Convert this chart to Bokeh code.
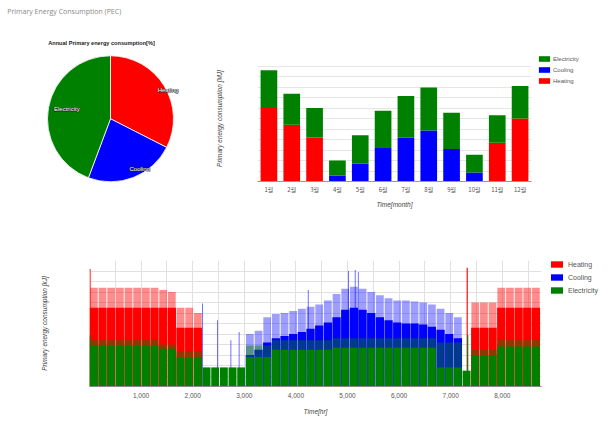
import math
from bokeh.plotting import figure
from bokeh.models import (ColumnDataSource, FactorRange, Range1d, FixedTicker,
                          Legend, LegendItem, NumeralTickFormatter)
from bokeh.layouts import row, column
from bokeh.embed import file_html
from bokeh.resources import INLINE
from bokeh.core.properties import value

# ---------------- data ----------------
page_title = "Primary Energy Consumption (PEC)"
pie_title = "Annual Primary energy consumption[%]"
pie_labels = ["Heating", "Cooling", "Electricity"]
pie_shares = [32.5, 23.2, 44.3]

months = ["1월", "2월", "3월", "4월", "5월", "6월", "7월", "8월", "9월", "10월", "11월", "12월"]
heating_month = [7.0, 5.4, 4.2, 0, 0, 0, 0, 0, 0, 0, 3.7, 6.0]
cooling_month = [0, 0, 0, 0.57, 1.7, 3.2, 4.2, 4.85, 3.1, 0.85, 0, 0]
electricity_month = [3.6, 2.95, 2.8, 1.43, 2.7, 3.55, 3.95, 4.1, 3.45, 1.7, 2.6, 3.1]

week_start_hr = [0, 168, 336, 504, 672, 840, 1008, 1176, 1344, 1512,
                 1680, 1848, 2016, 2184, 2352, 2520, 2688, 2856, 3024, 3192,
                 3360, 3528, 3696, 3864, 4032, 4200, 4368, 4536, 4704, 4872,
                 5040, 5208, 5376, 5544, 5712, 5880, 6048, 6216, 6384, 6552,
                 6720, 6888, 7056, 7224, 7392, 7560, 7728, 7896, 8064, 8232,
                 8400, 8568]
heating_base = [7.5, 7.5, 7.5, 7.5, 7.5, 7.5, 7.5, 7.5, 7.5, 7.5,
                5.6, 5.6, 5.6, 0, 0, 0, 0, 0, 0, 0,
                0, 0, 0, 0, 0, 0, 0, 0, 0, 0,
                0, 0, 0, 0, 0, 0, 0, 0, 0, 0,
                0, 0, 0, 0, 5.6, 5.6, 5.6, 7.5, 7.5, 7.5,
                7.5, 7.5]
heating_peak = [9.4, 9.4, 9.4, 9.4, 9.4, 9.4, 9.4, 9.4, 9.2, 9.0,
                7.5, 7.5, 7.0, 0, 0, 0, 0, 0, 0, 0,
                0, 0, 0, 0, 0, 0, 0, 0, 0, 0,
                0, 0, 0, 0, 0, 0, 0, 0, 0, 0,
                0, 0, 0, 0, 8.0, 8.0, 8.0, 9.4, 9.4, 9.4,
                9.4, 9.4]
cooling_base = [0, 0, 0, 0, 0, 0, 0, 0, 0, 0,
                0, 0, 0, 0, 0, 0, 0, 0, 3.0, 3.5,
                4.2, 4.6, 4.8, 5.0, 5.2, 5.5, 5.8, 6.1, 6.6, 7.3,
                7.5, 7.3, 7.0, 6.6, 6.3, 6.1, 6.0, 6.0, 5.9, 5.7,
                5.4, 5.0, 4.6, 0, 0, 0, 0, 0, 0, 0,
                0, 0]
cooling_peak = [0, 0, 0, 0, 0, 0, 0, 0, 0, 0,
                0, 0, 0, 0, 0, 0, 0, 0, 5.0, 5.3,
                6.6, 6.9, 7.0, 7.2, 7.4, 7.6, 7.8, 8.2, 8.8, 9.3,
                9.5, 9.3, 9.0, 8.7, 8.4, 8.2, 8.2, 8.1, 8.0, 7.8,
                7.4, 7.0, 6.6, 0, 0, 0, 0, 0, 0, 0,
                0, 0]
electricity_base = [3.9, 3.9, 3.9, 3.9, 3.9, 3.9, 3.9, 3.9, 3.6, 3.6,
                    2.8, 2.8, 2.8, 1.8, 1.8, 1.8, 1.8, 1.8, 2.8, 2.8,
                    2.8, 3.5, 3.5, 3.5, 3.5, 3.5, 3.5, 3.5, 3.7, 3.7,
                    3.7, 3.7, 3.7, 3.7, 3.7, 3.7, 3.7, 3.7, 3.7, 3.7,
                    1.8, 1.8, 1.8, 1.5, 3.0, 3.0, 3.0, 3.8, 3.8, 3.8,
                    3.8, 3.8]
electricity_peak = [4.4, 4.4, 4.4, 4.4, 4.4, 4.4, 4.4, 4.4, 4.0, 4.0,
                    3.3, 3.3, 3.3, 1.8, 1.8, 1.8, 1.8, 1.8, 3.9, 3.9,
                    3.9, 4.4, 4.4, 4.4, 4.4, 4.4, 4.4, 4.4, 4.6, 4.6,
                    4.6, 4.6, 4.6, 4.6, 4.6, 4.6, 4.6, 4.6, 4.6, 4.6,
                    4.2, 4.2, 4.2, 1.5, 3.5, 3.5, 3.5, 4.4, 4.4, 4.4,
                    4.4, 4.4]
heating_spike_hr = [10, 7320]
heating_spike = [11.2, 11.3]
cooling_spike_hr = [2190, 2480, 2740, 2900, 4240, 5020, 5150, 5210]
cooling_spike = [7.9, 6.3, 4.4, 5.2, 9.2, 11.0, 11.1, 10.9]
electricity_spike_hr = [10, 7330]
electricity_spike = [4.9, 4.9]

RED, BLUE, GREEN = "#ff0000", "#0000ff", "#008000"
FN = "Liberation Sans"
FONT = value(FN)

# ---------------- pie ----------------
PW, PH = 200, 230
p1 = figure(width=PW, height=PH, x_range=Range1d(0, PW), y_range=Range1d(0, PH),
            x_axis_type=None, y_axis_type=None, output_backend="svg",
            toolbar_location=None, min_border=0, min_border_left=0,
            min_border_right=0, min_border_top=0, min_border_bottom=0,
            frame_align=False)
p1.grid.visible = False
p1.outline_line_color = None
cx, cy, R = 110, 111.7, 63
tot = sum(pie_shares)
starts, ends, lx, ly = [], [], [], []
label_rf = [1.02, 0.92, 0.71]
label_shift_deg = [5, -9, 2]
cum = 0.0
for s, rf, sh in zip(pie_shares, label_rf, label_shift_deg):
    a0 = math.pi / 2 - 2 * math.pi * cum / tot
    a1 = math.pi / 2 - 2 * math.pi * (cum + s) / tot
    am = (a0 + a1) / 2 - math.radians(sh)
    starts.append(a0); ends.append(a1)
    lx.append(cx + rf * R * math.cos(am)); ly.append(cy + rf * R * math.sin(am))
    cum += s
psrc = ColumnDataSource(dict(start=starts, end=ends, color=[RED, BLUE, GREEN],
                             label=pie_labels, lx=lx, ly=ly))
p1.wedge(x=cx, y=cy, radius=R, start_angle="start", end_angle="end",
         direction="clock", fill_color="color", line_color="white",
         line_width=0.8, source=psrc)
for dx, dy in [(-0.6, 0), (0.6, 0), (0, 0.6), (0, -0.6)]:
    p1.text(x="lx", y="ly", text="label", source=psrc, text_color="#222222",
            x_offset=dx, y_offset=dy, text_font=FONT, text_font_size="6px",
            text_align="center", text_baseline="middle")
p1.text(x="lx", y="ly", text="label", source=psrc, text_color="white",
        text_font=FONT, text_font_size="6px",
        text_align="center", text_baseline="middle")
p1.text(x=[6.7], y=[PH - 10.7], text=[page_title], text_font=value("Open Sans"),
        text_font_size="7px", text_color="#888888", text_align="left",
        text_baseline="middle")
p1.text(x=[101], y=[PH - 42.7], text=[pie_title], text_font=FONT,
        text_font_size="5.6px", text_font_style="bold", text_color="#222222",
        text_align="center", text_baseline="middle")

# ---------------- monthly bars ----------------
p2 = figure(width=408, height=PH, frame_width=274, frame_height=126,
            x_range=FactorRange(*months, range_padding=0),
            y_range=Range1d(0, 12), output_backend="svg", toolbar_location=None,
            min_border_left=57, min_border_right=77, min_border_top=55,
            min_border_bottom=49, frame_align=False)
p2.outline_line_color = None
bsrc = ColumnDataSource(dict(month=months, heating=heating_month,
                             cooling=cooling_month, electricity=electricity_month))
rs = p2.vbar_stack(["heating", "cooling", "electricity"], x="month", width=0.73,
                   color=[RED, BLUE, GREEN], line_color=None, source=bsrc)
p2.xgrid.visible = False
p2.ygrid.ticker = FixedTicker(ticks=list(range(1, 13)))
p2.ygrid.grid_line_color = "#e6e6e6"
p2.yaxis.ticker = FixedTicker(ticks=[])
p2.yaxis.axis_line_color = None
p2.yaxis.major_tick_line_color = None
p2.yaxis.minor_tick_line_color = None
p2.yaxis.axis_label = "Primary energy consumption [MJ]"
p2.yaxis.axis_label_text_font = FN
p2.yaxis.axis_label_text_font_size = "6.5px"
p2.yaxis.axis_label_text_font_style = "italic"
p2.yaxis.axis_label_text_color = "#444444"
p2.yaxis.axis_label_standoff = 35
p2.xaxis.axis_line_color = "#999999"
p2.xaxis.major_tick_line_color = None
p2.xaxis.major_tick_out = 0
p2.xaxis.major_label_standoff = 3
p2.xaxis.major_label_text_font = "Noto Sans CJK KR"
p2.xaxis.major_label_text_font_size = "6px"
p2.xaxis.major_label_text_color = "#555555"
p2.xaxis.axis_label = "Time[month]"
p2.xaxis.axis_label_text_font = FN
p2.xaxis.axis_label_text_font_size = "6.5px"
p2.xaxis.axis_label_text_font_style = "italic"
p2.xaxis.axis_label_text_color = "#444444"
p2.xaxis.axis_label_standoff = 4
leg2 = Legend(items=[LegendItem(label="Electricity", renderers=[rs[2]]),
                     LegendItem(label="Cooling", renderers=[rs[1]]),
                     LegendItem(label="Heating", renderers=[rs[0]])],
              location=(6, 95), orientation="vertical",
              glyph_width=14, glyph_height=7, label_height=11, spacing=0,
              padding=0, margin=0, label_standoff=2,
              label_text_font=FN, label_text_font_size="6px",
              label_text_color="#555555", border_line_color=None,
              background_fill_alpha=0)
p2.add_layout(leg2, "right")

# ---------------- hourly ----------------
p3 = figure(width=608, height=194, frame_width=452, frame_height=126,
            x_range=Range1d(0, 8760), y_range=Range1d(0, 12),
            output_backend="svg", toolbar_location=None,
            min_border_left=89, min_border_right=67, min_border_top=30,
            min_border_bottom=38, frame_align=False)
p3.outline_line_color = None
mid = [s + 84 for s in week_start_hr]
wsrc = ColumnDataSource(dict(x=mid, hb=heating_base, hp=heating_peak,
                             cb=cooling_base, cp=cooling_peak,
                             eb=electricity_base, ep=electricity_peak))
p3.vbar(x="x", top="hp", width=150, fill_color=RED, fill_alpha=0.45,
        line_color=None, source=wsrc)
rh = p3.vbar(x="x", top="hb", width=160, fill_color=RED, line_color=None, source=wsrc)
p3.vbar(x=heating_spike_hr, top=heating_spike, width=22, fill_color=RED,
        line_color=None)
p3.vbar(x="x", top="cp", width=150, fill_color=BLUE, fill_alpha=0.38,
        line_color=None, source=wsrc)
rc = p3.vbar(x="x", top="cb", width=160, fill_color=BLUE, line_color=None, source=wsrc)
p3.vbar(x=cooling_spike_hr, top=cooling_spike, width=18, fill_color=BLUE,
        fill_alpha=0.6, line_color=None)
p3.vbar(x="x", top="ep", width=150, fill_color=GREEN, fill_alpha=0.45,
        line_color=None, source=wsrc)
re = p3.vbar(x="x", top="eb", width=150, fill_color=GREEN, line_color=None, source=wsrc)
p3.vbar(x=electricity_spike_hr, top=electricity_spike, width=22, fill_color=GREEN,
        line_color=None)
p3.xgrid.ticker = FixedTicker(ticks=list(range(0, 8760, 500)))
p3.ygrid.ticker = FixedTicker(ticks=list(range(1, 13)))
p3.grid.grid_line_color = "#e0e0e0"
p3.xaxis.ticker = FixedTicker(ticks=[1000, 2000, 3000, 4000, 5000, 6000, 7000, 8000])
p3.xaxis.formatter = NumeralTickFormatter(format="0,0")
p3.xaxis.axis_line_color = "#888888"
p3.xaxis.major_tick_line_color = None
p3.xaxis.minor_tick_line_color = None
p3.xaxis.major_tick_out = 0
p3.xaxis.major_label_standoff = 6
p3.xaxis.major_label_text_font = FN
p3.xaxis.major_label_text_font_size = "6.5px"
p3.xaxis.major_label_text_color = "#555555"
p3.xaxis.axis_label = "Time[hr]"
p3.xaxis.axis_label_text_font = FN
p3.xaxis.axis_label_text_font_size = "6.5px"
p3.xaxis.axis_label_text_font_style = "italic"
p3.xaxis.axis_label_text_color = "#444444"
p3.xaxis.axis_label_standoff = 7
p3.yaxis.ticker = FixedTicker(ticks=[])
p3.yaxis.axis_line_color = None
p3.yaxis.major_tick_line_color = None
p3.yaxis.minor_tick_line_color = None
p3.yaxis.axis_label = "Primary energy consumption [kJ]"
p3.yaxis.axis_label_text_font = FN
p3.yaxis.axis_label_text_font_size = "6.5px"
p3.yaxis.axis_label_text_font_style = "italic"
p3.yaxis.axis_label_text_color = "#444444"
p3.yaxis.axis_label_standoff = 42
leg3 = Legend(items=[LegendItem(label="Heating", renderers=[rh]),
                     LegendItem(label="Cooling", renderers=[rc]),
                     LegendItem(label="Electricity", renderers=[re])],
              location=(8, 90), orientation="vertical",
              glyph_width=15, glyph_height=8, label_height=12, spacing=1,
              padding=0, margin=0, label_standoff=4,
              label_text_font=FN, label_text_font_size="7px",
              label_text_color="#555555", border_line_color=None,
              background_fill_alpha=0)
p3.add_layout(leg3, "right")

layout = column(row(p1, p2), p3)
open("out.html", "w").write(file_html(layout, INLINE))
